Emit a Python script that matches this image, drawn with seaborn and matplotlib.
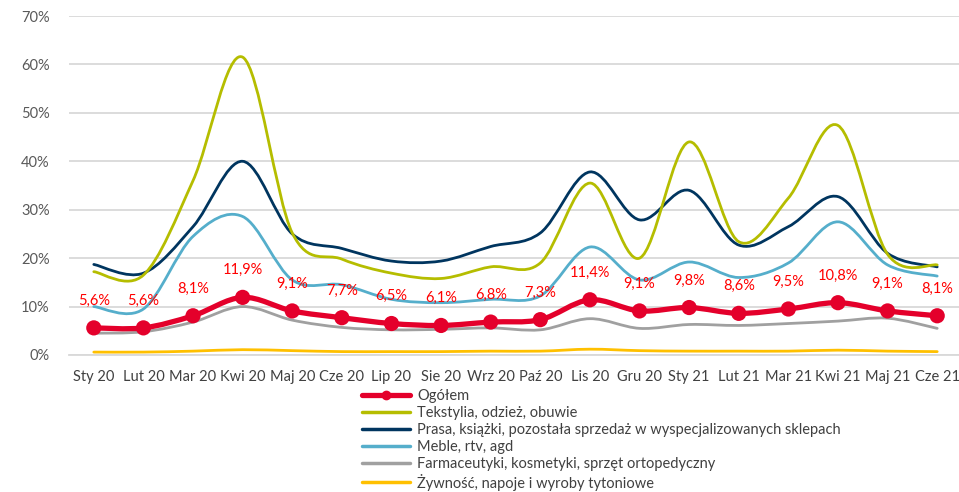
import numpy as np
import pandas as pd
import matplotlib
matplotlib.use("Agg")
import matplotlib.pyplot as plt
from matplotlib.path import Path
from matplotlib.patches import PathPatch
from matplotlib.lines import Line2D
import seaborn as sns

# --- data (percent) ---
months = ["Sty 20", "Lut 20", "Mar 20", "Kwi 20", "Maj 20", "Cze 20", "Lip 20", "Sie 20", "Wrz 20",
          "Paź 20", "Lis 20", "Gru 20", "Sty 21", "Lut 21", "Mar 21", "Kwi 21", "Maj 21", "Cze 21"]
ogolem = [5.6, 5.6, 8.1, 11.9, 9.1, 7.7, 6.5, 6.1, 6.8, 7.3, 11.4, 9.1, 9.8, 8.6, 9.5, 10.8, 9.1, 8.1]
tekstylia = [17.2, 16.5, 36.0, 61.5, 25.2, 19.8, 16.9, 15.8, 18.2, 19.0, 35.5, 20.0, 44.0, 23.4, 32.4, 47.4, 20.8, 18.6]
prasa = [18.7, 16.9, 26.5, 40.0, 25.0, 22.0, 19.4, 19.4, 22.4, 25.2, 37.8, 27.9, 34.0, 22.7, 26.5, 32.7, 21.0, 18.2]
meble = [10.0, 9.5, 24.5, 28.6, 15.5, 14.5, 11.5, 10.8, 11.5, 12.2, 22.3, 15.5, 19.2, 16.0, 19.0, 27.5, 18.6, 16.3]
farmacja = [4.5, 4.8, 6.8, 10.0, 7.2, 5.7, 5.2, 5.3, 5.6, 5.2, 7.5, 5.5, 6.3, 6.1, 6.5, 7.0, 7.6, 5.5]
zywnosc = [0.6, 0.6, 0.8, 1.1, 0.9, 0.7, 0.7, 0.7, 0.8, 0.8, 1.2, 0.9, 0.8, 0.8, 0.8, 1.0, 0.8, 0.7]

labels = ["Ogółem", "Tekstylia, odzież, obuwie",
          "Prasa, książki, pozostała sprzedaż w wyspecjalizowanych sklepach",
          "Meble, rtv, agd", "Farmaceutyki, kosmetyki, sprzęt ortopedyczny",
          "Żywność, napoje i wyroby tytoniowe"]
colors = ["#E4002B", "#B5BD00", "#00355F", "#55AECB", "#A0A0A0", "#FFC000"]

df = pd.DataFrame({"x": np.arange(len(months)), "Ogółem": ogolem})

sns.set_style("white")
plt.rcParams["font.family"] = ["Lato", "DejaVu Sans"]


def smooth_path(xs, ys):
    # Excel-like smoothed line: cubic Bezier segments through the data points
    xs = np.asarray(xs, float)
    ys = np.asarray(ys, float)
    n = len(xs)
    verts = [(xs[0], ys[0])]
    codes = [Path.MOVETO]
    for i in range(n - 1):
        i0 = max(i - 1, 0)
        i3 = min(i + 2, n - 1)
        c1 = (xs[i] + (xs[i + 1] - xs[i0]) / 6, ys[i] + (ys[i + 1] - ys[i0]) / 6)
        c2 = (xs[i + 1] - (xs[i3] - xs[i]) / 6, ys[i + 1] - (ys[i3] - ys[i]) / 6)
        verts += [c1, c2, (xs[i + 1], ys[i + 1])]
        codes += [Path.CURVE4] * 3
    return Path(verts, codes)


fig = plt.figure(figsize=(9.59, 4.92), dpi=100)
ax = fig.add_axes([69 / 959, 137 / 492, 893 / 959, 339 / 492])

x = np.arange(len(months))
series = [ogolem, tekstylia, prasa, meble, farmacja, zywnosc]
widths = [3.8, 2.0, 2.0, 2.0, 2.0, 2.0]
zorders = [6, 4, 3, 3, 2, 2]
for vals, col, lw, zo in zip(series, colors, widths, zorders):
    ax.add_patch(PathPatch(smooth_path(x, vals), facecolor="none", edgecolor=col,
                           lw=lw, zorder=zo, capstyle="round", joinstyle="round"))

sns.scatterplot(data=df, x="x", y="Ogółem", ax=ax, color=colors[0], s=120,
                edgecolor="none", zorder=7, legend=False)

for xi, v in zip(x, ogolem):
    ax.annotate(f"{v:.1f}%".replace(".", ","), (xi, v), xytext=(0, 14.5), textcoords="offset points",
                ha="center", va="bottom", color="#FF0000", fontsize=10.5, zorder=8)

ax.set_xlim(-0.5, 17.5)
ax.set_ylim(0, 70)
ax.set_yticks(np.arange(0, 71, 10))
ax.set_yticklabels([f"{t}%" for t in range(0, 71, 10)])
ax.set_xticks(x)
ax.set_xticklabels(months)
ax.set_xlabel("")
ax.set_ylabel("")
ax.grid(axis="y", color="#D9D9D9", lw=1.3)
ax.set_axisbelow(True)
for s in ["top", "right", "left"]:
    ax.spines[s].set_visible(False)
ax.spines["bottom"].set_color("#D9D9D9")
ax.spines["bottom"].set_linewidth(1.3)
ax.tick_params(axis="x", length=5, color="#D9D9D9", labelsize=10.5, labelcolor="#404040", pad=6)
ax.tick_params(axis="y", length=0, labelsize=10.5, labelcolor="#595959", pad=14)

handles = [Line2D([], [], color=colors[0], lw=3.8, marker="o", markersize=6)]
handles += [Line2D([], [], color=c, lw=2.5) for c in colors[1:]]
fig.legend(handles, labels, loc="upper left", bbox_to_anchor=(362 / 959, 1 - 389 / 492),
           frameon=False, fontsize=10.5, handlelength=3.3, handletextpad=0.5,
           labelspacing=0.2, borderaxespad=0, borderpad=0, labelcolor="#404040")

fig.savefig("out.png", dpi=100)
